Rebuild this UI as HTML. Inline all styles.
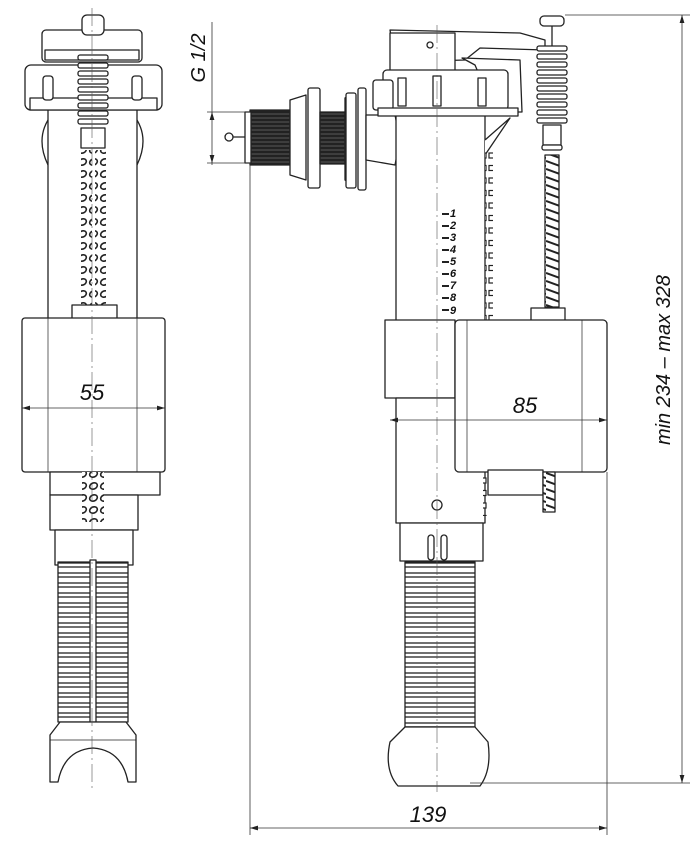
<!DOCTYPE html>
<html><head><meta charset="utf-8"><style>
html,body{margin:0;padding:0;background:#fff}
svg{display:block}
text{font-family:"Liberation Sans Narrow","Liberation Sans",sans-serif;font-style:italic;fill:#111}
</style></head><body>
<svg width="700" height="850" viewBox="0 0 700 850" xmlns="http://www.w3.org/2000/svg">
<defs>
<marker id="a" viewBox="0 0 10 6" refX="10" refY="3" markerWidth="10" markerHeight="6" orient="auto-start-reverse"><path d="M0,0L10,3L0,6z" fill="#222"/></marker>
<pattern id="hose" width="10" height="10" patternUnits="userSpaceOnUse"><rect width="10" height="10" fill="#fff"/><line x1="-1" y1="3" x2="11" y2="3" stroke="#222" stroke-width="1.3"/><line x1="-1" y1="7" x2="11" y2="7" stroke="#222" stroke-width="1.3"/></pattern>
<pattern id="thr" width="6" height="4" patternUnits="userSpaceOnUse"><rect width="6" height="4" fill="#222"/><line x1="0" y1="2" x2="6" y2="2" stroke="#666" stroke-width="0.8"/></pattern>
<pattern id="coil" width="11" height="12" patternUnits="userSpaceOnUse"><rect width="11" height="12" fill="#fff"/><ellipse cx="5.5" cy="6" rx="4" ry="3" fill="none" stroke="#222" stroke-width="1.6" transform="rotate(-25 5.5 6)"/></pattern>
<pattern id="scr" width="14" height="8" patternUnits="userSpaceOnUse"><rect width="14" height="8" fill="#fff"/><line x1="0" y1="1" x2="14" y2="6" stroke="#222" stroke-width="2"/></pattern>
<pattern id="sq" width="8" height="12.5" patternUnits="userSpaceOnUse"><rect x="1" y="3" width="5" height="5" fill="#fff" stroke="#222" stroke-width="1.2"/></pattern>
</defs>
<g fill="#fff" stroke="#222" stroke-width="1.3" stroke-linejoin="round">
<!-- LEFT VIEW -->
<rect x="48" y="108" width="89" height="212"/>
<path d="M48,120 Q36,140 48,165" fill="none"/><path d="M137,120 Q149,140 137,165" fill="none"/>
<rect x="42" y="30" width="100" height="32" rx="4"/>
<rect x="45" y="50" width="94" height="10" fill="none"/>
<rect x="25" y="65" width="137" height="45" rx="6"/>
<rect x="30" y="98" width="127" height="12"/>
<rect x="43" y="76" width="10" height="24" rx="3"/><rect x="132" y="76" width="10" height="24" rx="3"/>
<rect x="82" y="15" width="22" height="20" rx="5"/>
<g fill="#fff">
<rect x="78" y="55" width="30" height="5" rx="2"/><rect x="78" y="63" width="30" height="5" rx="2"/><rect x="78" y="71" width="30" height="5" rx="2"/><rect x="78" y="79" width="30" height="5" rx="2"/><rect x="78" y="87" width="30" height="5" rx="2"/><rect x="78" y="95" width="30" height="5" rx="2"/><rect x="78" y="103" width="30" height="5" rx="2"/><rect x="78" y="111" width="30" height="5" rx="2"/><rect x="78" y="119" width="30" height="5" rx="2"/>
</g>
<rect x="81" y="128" width="24" height="20"/>
<rect x="81" y="150" width="11" height="165" fill="url(#coil)" stroke="none"/>
<rect x="95" y="150" width="11" height="165" fill="url(#coil)" stroke="none"/>
<rect x="72" y="305" width="45" height="15"/>
<rect x="22" y="318" width="143" height="154" rx="3"/>
<line x1="48" y1="318" x2="48" y2="472" stroke-width="0.7"/><line x1="137" y1="318" x2="137" y2="472" stroke-width="0.7"/>
<rect x="50" y="472" width="110" height="23"/>
<rect x="50" y="495" width="88" height="35"/>
<rect x="82" y="472" width="22" height="50" fill="url(#coil)" stroke="none"/>
<rect x="55" y="530" width="78" height="35"/>
<rect x="58" y="562" width="70" height="160" fill="url(#hose)"/>
<rect x="90" y="560" width="6" height="162"/>
<path d="M60,722 L126,722 L136,735 L136,782 L128,782 Q122,750 93,748 Q64,750 58,782 L50,782 L50,735 Z"/>
<line x1="50" y1="740" x2="136" y2="740" stroke-width="0.8"/>

<!-- RIGHT VIEW inlet -->
<rect x="250" y="110" width="40" height="55" fill="url(#thr)"/>
<line x1="228" y1="137" x2="250" y2="137"/><circle cx="229" cy="137" r="4"/>
<rect x="245" y="112" width="6" height="51"/>
<path d="M290,100 L306,95 L306,180 L290,175 Z"/>
<rect x="308" y="88" width="12" height="100" rx="2"/>
<rect x="320" y="112" width="25" height="52" fill="url(#thr)"/>
<path d="M345,98 L352,94 L352,184 L345,180 Z"/>
<rect x="346" y="93" width="10" height="95" rx="2"/>
<rect x="358" y="88" width="8" height="102" rx="2"/>
<path d="M366,115 L395,115 L400,140 L395,165 L366,160 Z"/>

<!-- right tube -->
<rect x="396" y="108" width="89" height="215"/>
<path d="M485,140 L510,118 L485,155" />
<rect x="485" y="150" width="8" height="170" fill="url(#sq)" stroke="none"/>
<path d="M390,30 L520,33 L545,40 L545,50 L480,48 L465,60 L395,62 Z"/>
<rect x="390" y="33" width="65" height="40"/>
<circle cx="430" cy="45" r="3"/>
<path d="M462,58 L520,60 L522,112 L495,112 L475,65 Z"/>
<rect x="383" y="70" width="125" height="40" rx="4"/>
<rect x="373" y="80" width="20" height="30" rx="3"/>
<rect x="378" y="108" width="140" height="8"/>
<rect x="398" y="78" width="8" height="28"/><rect x="433" y="76" width="8" height="30"/><rect x="478" y="78" width="8" height="28"/>
<!-- rod -->
<rect x="540" y="16" width="24" height="10" rx="4"/>
<line x1="552" y1="26" x2="552" y2="46"/>
<g><rect x="537" y="46" width="30" height="5" rx="2"/><rect x="537" y="54" width="30" height="5" rx="2"/><rect x="537" y="62" width="30" height="5" rx="2"/><rect x="537" y="70" width="30" height="5" rx="2"/><rect x="537" y="78" width="30" height="5" rx="2"/><rect x="537" y="86" width="30" height="5" rx="2"/><rect x="537" y="94" width="30" height="5" rx="2"/><rect x="537" y="102" width="30" height="5" rx="2"/><rect x="537" y="110" width="30" height="5" rx="2"/><rect x="537" y="118" width="30" height="5" rx="2"/></g>
<rect x="543" y="125" width="18" height="20"/>
<rect x="542" y="145" width="20" height="5" rx="2"/>
<rect x="545" y="155" width="14" height="152" fill="url(#scr)"/>
<rect x="531" y="308" width="34" height="14"/>
<!-- float -->
<rect x="385" y="320" width="70" height="78"/>
<rect x="396" y="398" width="89" height="125"/>
<rect x="455" y="320" width="152" height="152" rx="4"/>
<line x1="467" y1="320" x2="467" y2="472" stroke-width="0.7"/><line x1="582" y1="320" x2="582" y2="472" stroke-width="0.7"/>
<rect x="488" y="470" width="55" height="25"/>
<rect x="543" y="472" width="12" height="40" fill="url(#scr)"/>
<rect x="483" y="476" width="5" height="40" fill="url(#sq)" stroke="none"/>
<circle cx="437" cy="505" r="5"/>
<rect x="400" y="523" width="83" height="38"/>
<rect x="428" y="535" width="6" height="25" rx="3"/><rect x="441" y="535" width="6" height="25" rx="3"/>
<rect x="405" y="562" width="70" height="165" fill="url(#hose)"/>
<path d="M405,727 L475,727 L488,742 Q492,770 480,786 L398,786 Q384,770 390,742 Z"/>
</g>
<!-- center lines -->
<g stroke="#555" stroke-width="0.6" stroke-dasharray="18,4,2,4" fill="none">
<line x1="92" y1="8" x2="92" y2="790"/><line x1="437" y1="25" x2="437" y2="792"/>
</g>
<!-- scale -->
<g font-style="normal" font-size="11" font-weight="bold" style="font-family:'Liberation Sans',sans-serif">
<text x="450" y="217">1</text><text x="450" y="229">2</text><text x="450" y="241">3</text><text x="450" y="253">4</text><text x="450" y="265">5</text><text x="450" y="277">6</text><text x="450" y="289">7</text><text x="450" y="301">8</text><text x="450" y="314">9</text>
</g>
<g stroke="#222" stroke-width="2"><line x1="442" y1="214" x2="449" y2="214"/><line x1="442" y1="226" x2="449" y2="226"/><line x1="442" y1="238" x2="449" y2="238"/><line x1="442" y1="250" x2="449" y2="250"/><line x1="442" y1="262" x2="449" y2="262"/><line x1="442" y1="274" x2="449" y2="274"/><line x1="442" y1="286" x2="449" y2="286"/><line x1="442" y1="298" x2="449" y2="298"/><line x1="442" y1="310" x2="449" y2="310"/></g>
<!-- dimensions -->
<g stroke="#333" stroke-width="0.8" fill="none">
<line x1="212" y1="22" x2="212" y2="165"/>
<line x1="207" y1="112" x2="250" y2="112"/><line x1="207" y1="163" x2="250" y2="163"/>
<line x1="212" y1="118" x2="212" y2="112" marker-end="url(#a)"/><line x1="212" y1="157" x2="212" y2="163" marker-end="url(#a)"/>
<line x1="250" y1="163" x2="250" y2="835"/>
<line x1="607" y1="472" x2="607" y2="835"/>
<line x1="250" y1="828" x2="607" y2="828" marker-start="url(#a)" marker-end="url(#a)"/>
<line x1="565" y1="15" x2="690" y2="15"/><line x1="470" y1="783" x2="690" y2="783"/>
<line x1="682" y1="15" x2="682" y2="783" marker-start="url(#a)" marker-end="url(#a)"/>
<line x1="22" y1="408" x2="165" y2="408" marker-start="url(#a)" marker-end="url(#a)"/>
<line x1="390" y1="420" x2="607" y2="420" marker-start="url(#a)" marker-end="url(#a)"/>
</g>
<text x="92" y="400" font-size="22" text-anchor="middle">55</text>
<text x="525" y="413" font-size="22" text-anchor="middle">85</text>
<text x="428" y="822" font-size="22" text-anchor="middle">139</text>
<text x="0" y="0" font-size="20" text-anchor="middle" transform="translate(205,58) rotate(-90)">G 1/2</text>
<text x="0" y="0" font-size="20" text-anchor="middle" transform="translate(670,360) rotate(-90)">min 234 – max 328</text>
</svg>
</body></html>
